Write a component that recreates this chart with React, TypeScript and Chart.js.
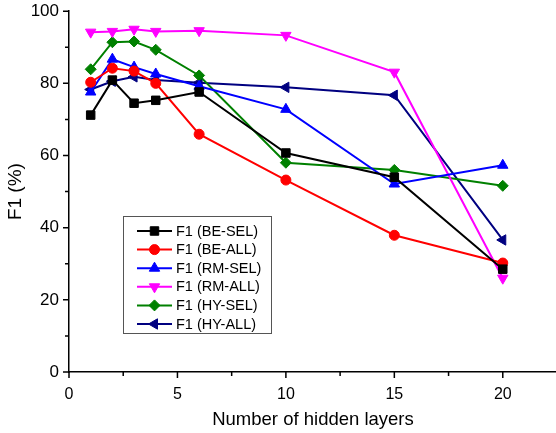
import React, { useEffect, useRef } from "react";
import { Chart, registerables } from "chart.js";
import { drawPoint } from "chart.js/helpers";

Chart.register(...registerables);

const layers = [1, 2, 3, 4, 6, 10, 15, 20];
const beSel = [71.2, 80.9, 74.5, 75.3, 77.6, 60.7, 54.0, 28.5];
const beAll = [80.3, 84.2, 83.4, 80.0, 65.9, 53.2, 37.9, 30.2];
const rmSel = [77.6, 86.7, 84.5, 82.6, 79.2, 72.8, 52.1, 57.3];
const rmAll = [94.2, 94.4, 95.0, 94.4, 94.6, 93.3, 83.1, 26.0];
const hySel = [83.9, 91.4, 91.6, 89.3, 82.2, 58.0, 56.0, 51.6];
const hyAll = [78.3, 80.6, 81.8, 80.9, 80.2, 78.9, 76.7, 36.6];

const seriesNames = ["F1 (BE-SEL)", "F1 (BE-ALL)", "F1 (RM-SEL)", "F1 (RM-ALL)", "F1 (HY-SEL)", "F1 (HY-ALL)"];
const seriesValues = [beSel, beAll, rmSel, rmAll, hySel, hyAll];
const seriesColors = ["#000000", "#ff0000", "#0000ff", "#ff00ff", "#008000", "#000080"];
const seriesStyles = ["rect", "circle", "triangle", "triangle", "rectRot", "triangle"];
const seriesRotations = [0, 0, 0, 180, 0, -90];
const seriesRadius = [6, 5, 6, 6, 5.5, 6];

const FONT = "'Liberation Sans', Arial, sans-serif";
const EXTRA_W = 8;
const EXTRA_H = 3;

const ticksPlugin = {
  id: "customTicks",
  afterDraw(chart: any) {
    const ctx = chart.ctx;
    const x = chart.scales.x;
    const y = chart.scales.y;
    ctx.save();
    ctx.strokeStyle = "#000";
    ctx.lineWidth = 1.5;
    ctx.beginPath();
    for (let v = 0; v <= 100; v += 10) {
      const py = y.getPixelForValue(v);
      const len = v % 20 === 0 ? 6 : 4;
      ctx.moveTo(x.left - len, py);
      ctx.lineTo(x.left, py);
    }
    for (let v = 0; v <= 22.5; v += 2.5) {
      const px = x.getPixelForValue(v);
      const len = v % 5 === 0 ? 6 : 4;
      ctx.moveTo(px, y.bottom);
      ctx.lineTo(px, y.bottom + len);
    }
    ctx.stroke();

    // legend box
    const bx = 123, by = 216 + EXTRA_H, bw = 148, bh = 117;
    ctx.strokeStyle = "#555";
    ctx.lineWidth = 1;
    ctx.fillStyle = "#fff";
    ctx.fillRect(bx, by, bw, bh);
    ctx.strokeRect(bx + 0.5, by + 0.5, bw, bh);
    ctx.font = `14.5px ${FONT}`;
    ctx.textBaseline = "middle";
    ctx.textAlign = "left";
    chart.data.datasets.forEach((ds: any, i: number) => {
      const ry = by + 15 + i * 18.6;
      ctx.strokeStyle = ds.borderColor;
      ctx.lineWidth = 2;
      ctx.beginPath();
      ctx.moveTo(137, ry);
      ctx.lineTo(172, ry);
      ctx.stroke();
      ctx.fillStyle = ds.backgroundColor;
      ctx.strokeStyle = ds.borderColor;
      ctx.lineWidth = 1;
      drawPoint(ctx, { pointStyle: ds.pointStyle, rotation: ds.pointRotation, radius: ds.pointRadius, borderWidth: 1 }, 154.5, ry);
      ctx.fillStyle = "#000";
      ctx.fillText(ds.label, 176, ry + 0.5);
    });
    ctx.restore();
  },
};

export default function App() {
  const ref = useRef<HTMLCanvasElement>(null);
  useEffect(() => {
    if (!ref.current) return;
    const chart = new Chart(ref.current, {
      type: "line",
      data: {
        datasets: seriesNames.map((name, i) => ({
          label: name,
          data: layers.map((l, j) => ({ x: l, y: seriesValues[i][j] })),
          borderColor: seriesColors[i],
          backgroundColor: seriesColors[i],
          borderWidth: 2,
          pointStyle: seriesStyles[i] as any,
          pointRotation: seriesRotations[i],
          pointRadius: seriesRadius[i],
          pointBorderWidth: 1,
          tension: 0,
        })),
      },
      options: {
        animation: false,
        responsive: false,
        devicePixelRatio: 1,
        layout: { padding: 0 },
        plugins: { legend: { display: false }, tooltip: { enabled: false } },
        scales: {
          x: {
            type: "linear",
            min: 0,
            max: 22.5,
            afterFit: (s: any) => { s.height = 61; },
            border: { display: true, color: "#000", width: 1.5 },
            grid: { display: true, drawOnChartArea: false, drawTicks: true, tickLength: 6, tickColor: "rgba(0,0,0,0)" },
            ticks: {
              stepSize: 2.5,
              autoSkip: false,
              maxRotation: 0,
              padding: 7,
              color: "#000",
              font: { family: FONT, size: 16 },
              callback: (v: any) => (Number(v) % 5 === 0 ? String(v) : ""),
            },
            title: {
              display: true,
              text: "Number of hidden layers",
              color: "#000",
              font: { family: FONT, size: 18.5 },
              padding: { top: 0, bottom: 2 },
            },
          },
          y: {
            type: "linear",
            min: 0,
            max: 100,
            afterFit: (s: any) => { s.width = 69; },
            border: { display: true, color: "#000", width: 1.5 },
            grid: { display: true, drawOnChartArea: false, drawTicks: true, tickLength: 6, tickColor: "rgba(0,0,0,0)" },
            ticks: {
              stepSize: 10,
              autoSkip: false,
              padding: 4,
              color: "#000",
              font: { family: FONT, size: 17 },
              callback: (v: any) => (Number(v) % 20 === 0 ? String(v) : ""),
            },
            title: {
              display: true,
              text: "F1 (%)",
              color: "#000",
              font: { family: FONT, size: 19 },
              padding: { top: 4.5, bottom: 0 },
            },
          },
        },
      },
      plugins: [ticksPlugin],
    });
    return () => chart.destroy();
  }, []);
  return (
    <div style={{ position: "fixed", left: 0, top: 0, width: 556, height: 433, overflow: "hidden", background: "#fff" }}>
      <canvas
        ref={ref}
        width={556 + EXTRA_W}
        height={433 + EXTRA_H}
        style={{ position: "absolute", left: 0, top: -EXTRA_H, width: 556 + EXTRA_W, height: 433 + EXTRA_H }}
      />
    </div>
  );
}
